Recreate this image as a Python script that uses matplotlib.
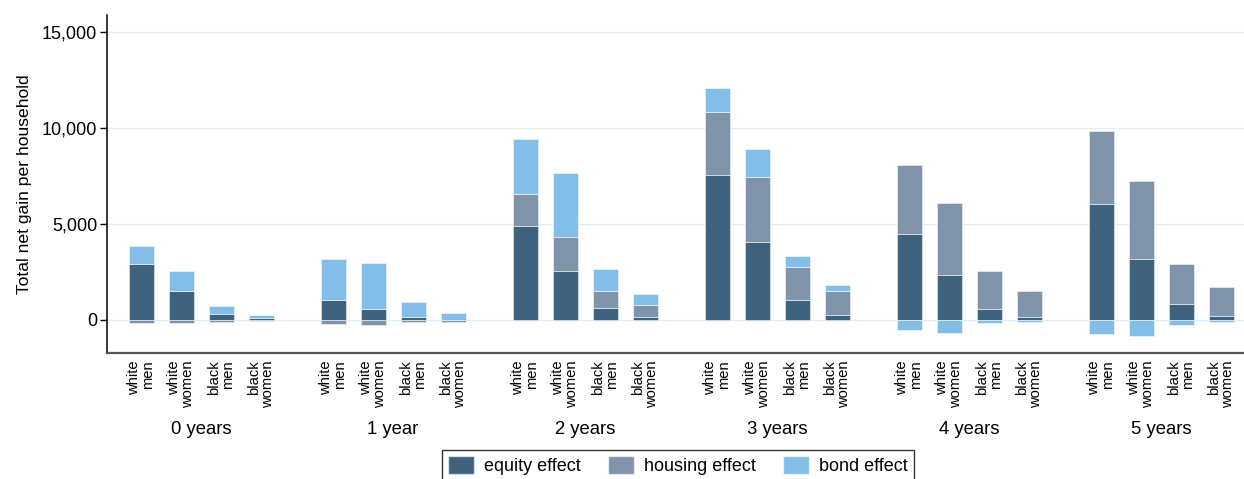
import numpy as np
import matplotlib
matplotlib.use("Agg")
import matplotlib.pyplot as plt
import matplotlib.transforms as mtransforms
from matplotlib.patches import Patch

plt.rcParams['font.family'] = ['Liberation Sans', 'DejaVu Sans']

horizons = ["0 years", "1 year", "2 years", "3 years", "4 years", "5 years"]
groups = ["white\nmen", "white\nwomen", "black\nmen", "black\nwomen"]

# dollars per household, one row per horizon, columns follow `groups`
equity = [[2930, 1530, 330, 90],
          [1040, 560, 140, 20],
          [4900, 2570, 620, 160],
          [7570, 4050, 1040, 280],
          [4460, 2360, 560, 160],
          [6040, 3190, 830, 210]]
housing = [[-140, -140, -120, -50],
           [-210, -280, -120, -120],
           [1650, 1750, 900, 600],
           [3260, 3400, 1740, 1250],
           [3590, 3750, 2010, 1370],
           [3820, 4030, 2090, 1530]]
bond = [[910, 1040, 380, 190],
        [2150, 2430, 780, 330],
        [2900, 3320, 1130, 580],
        [1270, 1440, 550, 280],
        [-520, -660, -170, -100],
        [-750, -810, -260, -120]]

series = [("equity effect", equity, "#3e627e"),
          ("housing effect", housing, "#7f93a9"),
          ("bond effect", bond, "#82bee8")]

ngrp = len(groups)
gstep = 4.8
x = np.array([g * gstep + i for g in range(len(horizons)) for i in range(ngrp)])

fig = plt.figure(figsize=(12.44, 4.79), dpi=100)
ax = fig.add_axes([107 / 1244, 1 - 353 / 479, 1150 / 1244, (353 - 15) / 479])

pos = np.zeros(len(x))
neg = np.zeros(len(x))
for name, vals, col in series:
    v = np.array(vals, dtype=float).ravel()
    bottom = np.where(v >= 0, pos, neg)
    ax.bar(x, v, bottom=bottom, width=0.625, color=col,
           edgecolor=(1, 1, 1, 0.6), linewidth=0.6, zorder=3)
    pos = pos + np.where(v >= 0, v, 0)
    neg = neg + np.where(v < 0, v, 0)

ax.set_xlim(-0.85, (1257 - 141) / 40)
ax.set_ylim(-1719, 15885)
ax.set_yticks([0, 5000, 10000, 15000])
ax.set_yticklabels(["0", "5,000", "10,000", "15,000"], fontsize=13)
ax.yaxis.grid(True, color="#e4eef4", linewidth=1, zorder=0)
ax.set_ylabel("Total net gain per household", fontsize=12.6, labelpad=7)
ax.tick_params(axis="y", length=5, width=1, pad=2)

ax.set_xticks(x)
ax.set_xticklabels(groups * len(horizons), rotation=90, fontsize=10.6,
                   ma="right", va="top", ha="center", linespacing=0.95)
ax.tick_params(axis="x", length=0, pad=5)

for s in ["top", "right"]:
    ax.spines[s].set_visible(False)
ax.spines["left"].set_linewidth(1.1)
ax.spines["bottom"].set_color("#555555")
ax.spines["bottom"].set_linewidth(1.6)

trans = mtransforms.blended_transform_factory(ax.transData, fig.transFigure)
for g, h in enumerate(horizons):
    ax.text(g * gstep + 1.5, 1 - 430 / 479, h, transform=trans,
            ha="center", va="center", fontsize=13.3)

handles = [Patch(facecolor=c, edgecolor=(1, 1, 1, 0.6), label=n) for n, _, c in series]
leg = fig.legend(handles=handles, loc="upper center", ncol=3,
                 bbox_to_anchor=(678 / 1244, 1 - 450 / 479), fontsize=13,
                 frameon=True, fancybox=False, edgecolor="black",
                 handlelength=1.45, handleheight=1.1, handletextpad=0.55,
                 columnspacing=1.5, borderpad=0.35, borderaxespad=0)
leg.get_frame().set_linewidth(1.0)

fig.savefig("out.png", dpi=100)
